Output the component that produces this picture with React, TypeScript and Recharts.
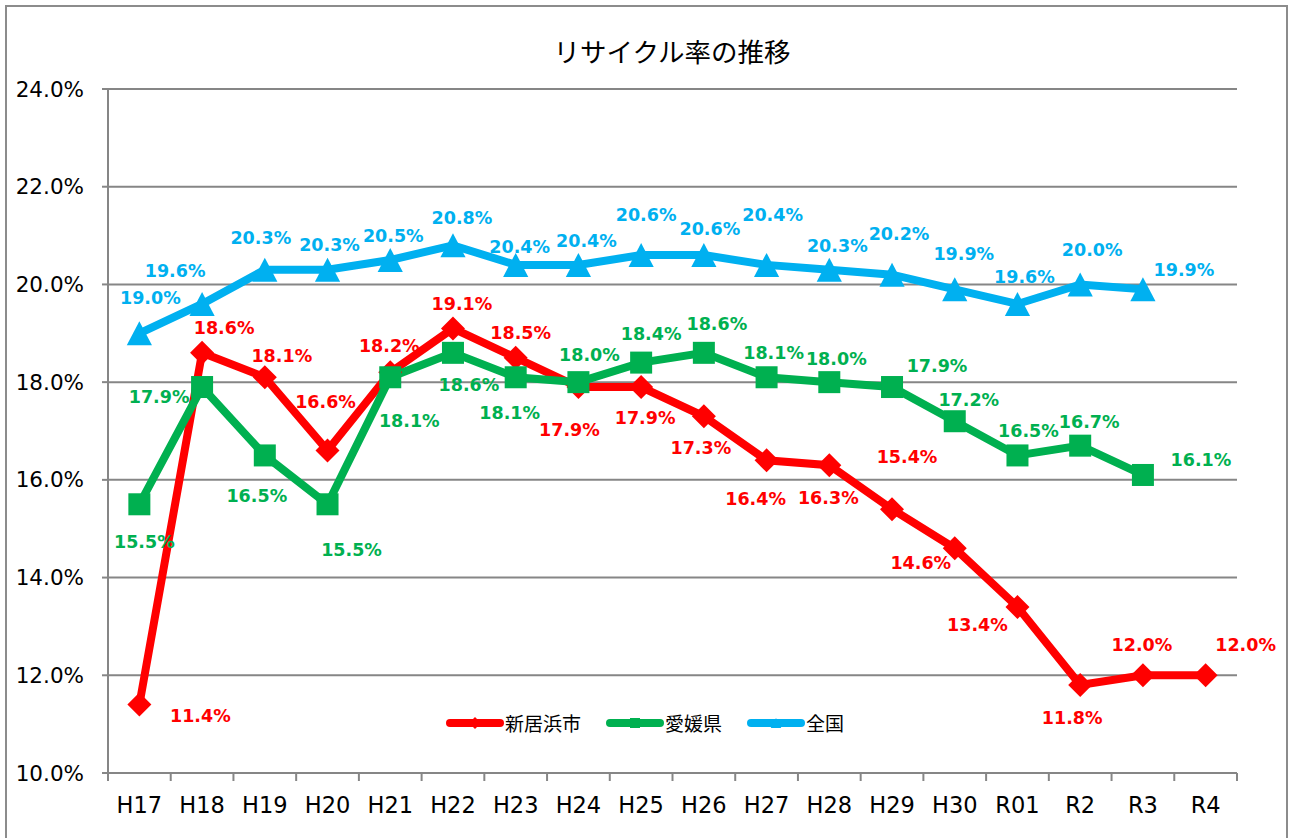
import { LineChart, Line, XAxis, YAxis, CartesianGrid, Legend, LabelList } from "recharts";

const years = ["H17", "H18", "H19", "H20", "H21", "H22", "H23", "H24", "H25", "H26", "H27", "H28", "H29", "H30", "R01", "R2", "R3", "R4"];
const niihama = [11.4, 18.6, 18.1, 16.6, 18.2, 19.1, 18.5, 17.9, 17.9, 17.3, 16.4, 16.3, 15.4, 14.6, 13.4, 11.8, 12.0, 12.0];
const ehime = [15.5, 17.9, 16.5, 15.5, 18.1, 18.6, 18.1, 18.0, 18.4, 18.6, 18.1, 18.0, 17.9, 17.2, 16.5, 16.7, 16.1, null];
const zenkoku = [19.0, 19.6, 20.3, 20.3, 20.5, 20.8, 20.4, 20.4, 20.6, 20.6, 20.4, 20.3, 20.2, 19.9, 19.6, 20.0, 19.9, null];
const yTicks = [10, 12, 14, 16, 18, 20, 22, 24];

const RED = "#FF0000";
const GREEN = "#00B050";
const BLUE = "#00B0F0";
const GRAY = "#868686";

// label offsets from each point [dx, dy]
const redOffsets = [[61, 11], [22, -25], [17, -21], [-2, -49], [-1, -26], [9, -24], [5, -25], [-9, 43], [4, 31], [-3, 32], [-11, 39], [-1, 33], [15, -52], [-34, 15], [-40, 18], [-8, 33], [-1, -30], [40, -30]];
const greenOffsets = [[5, 38], [-43, 10], [-8, 41], [24, 46], [19, 44], [16, 32], [-6, 36], [11, -27], [10, -29], [13, -29], [7, -24], [7, -23], [45, -21], [14, -21], [11, -24], [9, -24], [58, -15], [0, 0]];
const blueOffsets = [[11, -35], [-27, -33], [-4, -32], [2, -25], [3, -24], [9, -27], [4, -18], [8, -24], [5, -40], [6, -26], [6, -50], [8, -24], [7, -41], [9, -35], [7, -27], [12, -34], [41, -19], [0, 0]];

const data = years.map((y, i) => ({
  year: y,
  niihama: niihama[i],
  ehime: ehime[i],
  zenkoku: zenkoku[i],
}));

const W = 1292;
const H = 838;
const margin = { top: 89, right: 55, bottom: 25, left: 8 };
const yAxisWidth = 100;
const band = (W - margin.left - margin.right - yAxisWidth) / years.length;

const makeLabel = (color: string, offsets: number[][]) => (props: any) => {
  const x = props.x ?? props.viewBox?.x;
  const y = props.y ?? props.viewBox?.y;
  if (props.value == null || x == null || y == null) return <g key={`l-${props.index}`} />;
  const [dx, dy] = offsets[props.index] || [0, -20];
  return (
    <text
      key={`l-${props.index}`}
      x={x + dx}
      y={y + dy}
      textAnchor="middle"
      dominantBaseline="central"
      fill={color}
      fontSize={17.5}
      fontWeight="bold"
      fontFamily="DejaVu Sans"
    >
      {Number(props.value).toFixed(1)}%
    </text>
  );
};

const Diamond = ({ cx, cy, r, color }: any) => (
  <path d={`M${cx},${cy - r} L${cx + r},${cy} L${cx},${cy + r} L${cx - r},${cy} Z`} fill={color} />
);
const Square = ({ cx, cy, r, color }: any) => <rect x={cx - r} y={cy - r} width={r * 2} height={r * 2} fill={color} />;
const Triangle = ({ cx, cy, r, color }: any) => (
  <path d={`M${cx},${cy - r} L${cx + r * 1.05},${cy + r} L${cx - r * 1.05},${cy + r} Z`} fill={color} />
);

const makeDot = (Shape: any, color: string, r: number) => (p: any) => {
  if (p.value == null || p.cy == null) return <g key={`d-${p.index}`} />;
  return (
    <g key={`d-${p.index}`}>
      <Shape cx={p.cx} cy={p.cy} r={r} color={color} />
    </g>
  );
};

const XTick = (props: any) => {
  const { x, y, payload, index } = props;
  return (
    <g>
      <line x1={x - band / 2} y1={y} x2={x - band / 2} y2={y + 8} stroke={GRAY} strokeWidth={2} />
      {index === years.length - 1 && (
        <line x1={x + band / 2} y1={y} x2={x + band / 2} y2={y + 8} stroke={GRAY} strokeWidth={2} />
      )}
      <text x={x} y={y + 32} textAnchor="middle" dominantBaseline="central" fontSize={22.5} fontFamily="DejaVu Sans" fill="#000">
        {payload.value}
      </text>
    </g>
  );
};

const YTick = (props: any) => {
  const { x, y, payload } = props;
  return (
    <text x={x} y={y} textAnchor="end" dominantBaseline="central" fontSize={21.5} fontFamily="DejaVu Sans" fill="#000">
      {`${Number(payload.value).toFixed(1)}%`}
    </text>
  );
};

const legendItems = [
  { name: "新居浜市", color: RED, Shape: Diamond, r: 6 },
  { name: "愛媛県", color: GREEN, Shape: Square, r: 5 },
  { name: "全国", color: BLUE, Shape: Triangle, r: 5 },
];

const LegendContent = () => (
  <div style={{ display: "flex", alignItems: "center", gap: 24 }}>
    {legendItems.map(({ name, color, Shape, r }) => (
      <div key={name} style={{ display: "flex", alignItems: "center" }}>
        <svg width={60} height={20}>
          <line x1={5} y1={10} x2={55} y2={10} stroke={color} strokeWidth={8} strokeLinecap="round" />
          <Shape cx={30} cy={10} r={r} color={color} />
        </svg>
        <span style={{ fontSize: 19, fontFamily: "Noto Sans CJK JP", color: "#000", lineHeight: "24px" }}>{name}</span>
      </div>
    ))}
  </div>
);

export default function App() {
  return (
    <div style={{ position: "absolute", left: 0, top: 0, width: W, height: H, overflow: "hidden", background: "#fff" }}>
      <div
        style={{
          position: "absolute",
          left: 0,
          top: 34,
          width: W,
          paddingLeft: 52,
          boxSizing: "border-box",
          textAlign: "center",
          fontFamily: "Noto Sans CJK JP",
          fontSize: 26.5,
          color: "#000",
          lineHeight: "34px",
        }}
      >
        リサイクル率の推移
      </div>
      <LineChart width={W} height={H} data={data} margin={margin} style={{ position: "absolute", left: 0, top: 0 }}>
        <CartesianGrid vertical={false} stroke={GRAY} strokeWidth={2} />
        <XAxis
          dataKey="year"
          axisLine={{ stroke: GRAY, strokeWidth: 2 }}
          tickLine={false}
          tickSize={0}
          tickMargin={0}
          height={40}
          padding={{ left: band / 2, right: band / 2 }}
          tick={<XTick />}
          interval={0}
        />
        <YAxis
          domain={[10, 24]}
          ticks={yTicks}
          width={yAxisWidth}
          axisLine={{ stroke: GRAY, strokeWidth: 2 }}
          tickLine={{ stroke: GRAY, strokeWidth: 2 }}
          tickSize={6}
          tickMargin={18}
          tick={<YTick />}
        />
        <Legend
          layout="horizontal"
          verticalAlign="middle"
          align="center"
          wrapperStyle={{ top: 711, left: 445, width: 520 }}
          content={<LegendContent />}
        />
        <Line
          dataKey="niihama"
          name="新居浜市"
          stroke={RED}
          strokeWidth={8}
          dot={makeDot(Diamond, RED, 12)}
          activeDot={false}
          isAnimationActive={false}
        >
          <LabelList dataKey="niihama" content={makeLabel(RED, redOffsets)} />
        </Line>
        <Line
          dataKey="ehime"
          name="愛媛県"
          stroke={GREEN}
          strokeWidth={8}
          dot={makeDot(Square, GREEN, 11)}
          activeDot={false}
          isAnimationActive={false}
        >
          <LabelList dataKey="ehime" content={makeLabel(GREEN, greenOffsets)} />
        </Line>
        <Line
          dataKey="zenkoku"
          name="全国"
          stroke={BLUE}
          strokeWidth={8}
          dot={makeDot(Triangle, BLUE, 12)}
          activeDot={false}
          isAnimationActive={false}
        >
          <LabelList dataKey="zenkoku" content={makeLabel(BLUE, blueOffsets)} />
        </Line>
      </LineChart>
      <svg width={W} height={H} style={{ position: "absolute", left: 0, top: 0, pointerEvents: "none", zIndex: 5 }}>
        <path d={`M6,${H} L6,6 L${W - 5},6 L${W - 5},${H}`} fill="none" stroke="#8c8c8c" strokeWidth={2} />
      </svg>
    </div>
  );
}
